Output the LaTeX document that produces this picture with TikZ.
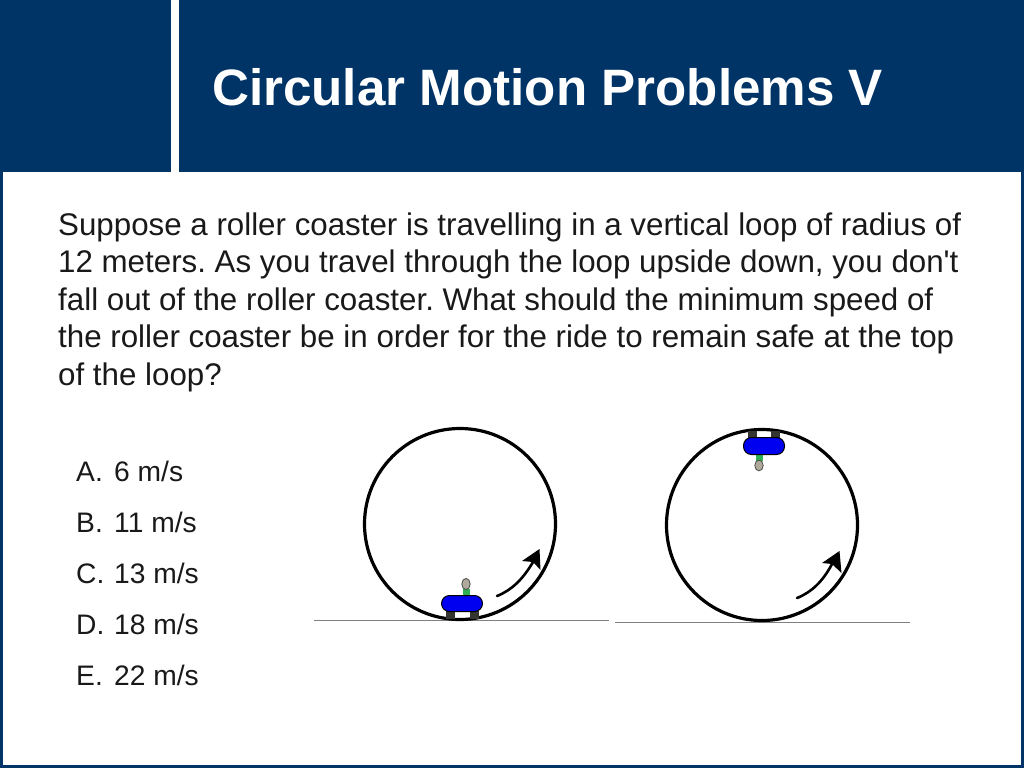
\documentclass[tikz,border=0pt]{standalone}
\usepackage{fontspec}
\setmainfont{Liberation Sans}
\newfontfamily\plainsans{Liberation Sans}
\definecolor{navy}{HTML}{003366}
\definecolor{wheel}{HTML}{35352F}
\definecolor{headc}{HTML}{B0AA9C}
\definecolor{torso}{HTML}{2FB050}
\definecolor{carblue}{HTML}{0000F0}
\tikzset{
  x=1pt,y=-1pt,
  bodyline/.style={anchor=base west,inner sep=0pt,font=\plainsans\frenchspacing\fontsize{31.3}{36}\selectfont,text=black!90},
  choice/.style={anchor=base west,inner sep=0pt,font=\plainsans\frenchspacing\fontsize{28.2}{32}\selectfont,text=black!90},
  loopc/.style={draw=black,line width=3.2pt,fill=none},
  ground/.style={draw=black!50,line width=1pt},
  carb/.style={draw=black,line width=1pt,fill=carblue,rounded corners=8pt},
  wheelb/.style={fill=wheel,draw=none},
  torsob/.style={fill=torso,draw=none},
  headb/.style={fill=headc,draw=black!70,line width=.8pt},
  curve/.style={draw=black,line width=2.6pt,line cap=round},
}
\begin{document}
\begin{tikzpicture}
\useasboundingbox (0,0) rectangle (1024,768);
\fill[navy] (0,0) rectangle (1024,768);
\fill[white] (3,171.5) rectangle (1021,765);
\fill[white] (171,0) rectangle (179,171.5);
\node[anchor=base west,inner sep=0pt,text=white,font=\fontsize{51.15}{60}\selectfont\bfseries] (title) at (212,105.5) {Circular Motion Problems V};
\node[bodyline] (l1) at (58,235) {Suppose a roller coaster is travelling in a vertical loop of radius of};
\node[bodyline] (l2) at (58,272.5) {12 meters. As you travel through the loop upside down, you don't};
\node[bodyline] (l3) at (58,310) {fall out of the roller coaster. What should the minimum speed of};
\node[bodyline] (l4) at (58,347.5) {the roller coaster be in order for the ride to remain safe at the top};
\node[bodyline] (l5) at (58,385) {of the loop?};
\foreach \n/\l/\t/\y in {a/A./6 m\slash s/481,b/B./11 m\slash s/532,c/C./13 m\slash s/583,d/D./18 m\slash s/634,e/E./22 m\slash s/685}{
  \node[choice] (k\n) at (76,\y) {\l};
  \node[choice] (t\n) at (114,\y) {\t};
}
% left scene
\draw[ground] (314,620) -- (609,620);
\draw[loopc] (460,524) circle[radius=95.5];
\fill[wheelb] (445.5,611) rectangle (454.5,619);
\fill[wheelb] (469.5,611) rectangle (478.5,619);
\fill[torsob] (462.5,589) rectangle (469.5,596);
\draw[headb] (466,584) ellipse[x radius=4.2,y radius=5.6];
\draw[carb] (441.5,595.5) rectangle (482.5,611.5);
\draw[curve] (497,596) .. controls (512,590) and (523,579) .. (533,562);
\fill[black] (539.5,549) -- (522,561) -- (533,562) -- (540.5,570) -- cycle;
% right scene
\draw[ground] (615,622) -- (910,622);
\draw[loopc] (762,525) circle[radius=95.5];
\fill[wheelb] (748,431) rectangle (757,438);
\fill[wheelb] (771,431) rectangle (780,438);
\fill[torsob] (755.5,453) rectangle (762.5,461);
\draw[headb] (759,465.5) ellipse[x radius=4.2,y radius=5.4];
\draw[carb] (743.5,437.5) rectangle (784.5,454.5);
\draw[curve] (797,598) .. controls (812,592) and (823,581) .. (832,564);
\fill[black] (839.5,551) -- (822,563) -- (832,564) -- (841.5,573) -- cycle;
\end{tikzpicture}
\end{document}
